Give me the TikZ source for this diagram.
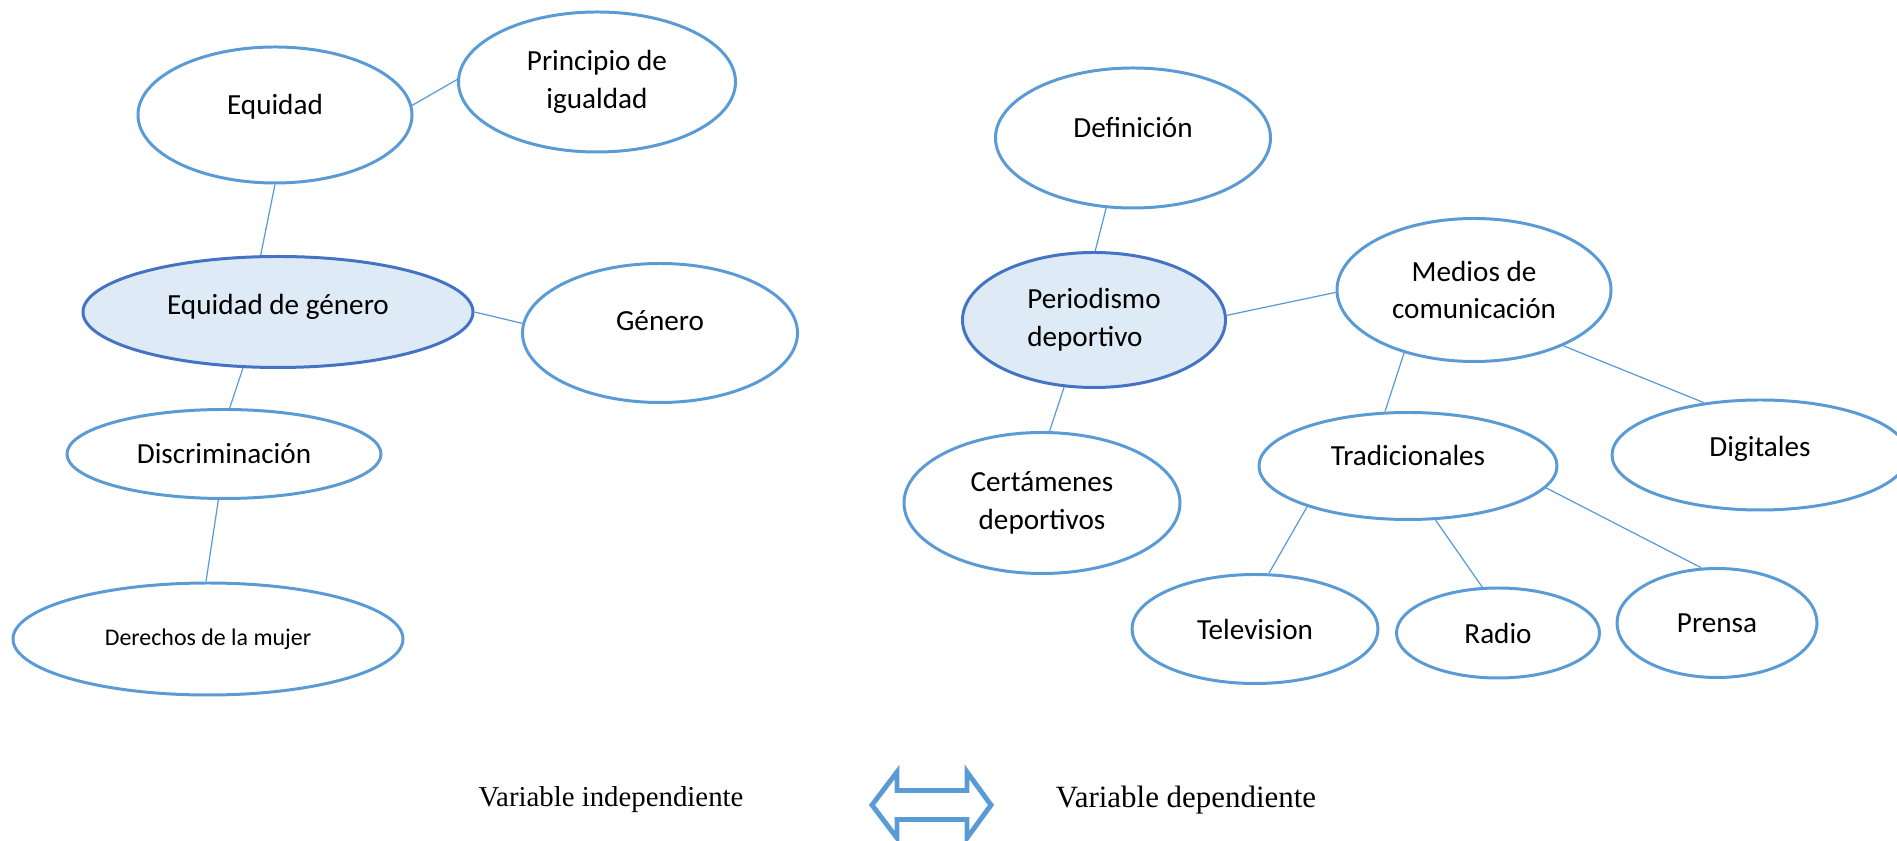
\documentclass[tikz,border=0pt]{standalone}
\usepackage{fontspec}
\setmainfont{Carlito}
\newfontfamily\timesfont{Liberation Serif}
\usetikzlibrary{shapes.geometric}
\definecolor{lineblue}{HTML}{5B9BD5}
\definecolor{darkblue}{HTML}{4472C4}
\definecolor{paleblue}{HTML}{DEEBF7}
\newlength{\rimwidth}
\setlength{\rimwidth}{0.85pt}
\tikzset{bubble/.style = {shape=ellipse,draw=lineblue,line width=\rimwidth,inner sep=0pt,align=center,font=\fontsize{8.3}{10.8}\selectfont}}
\tikzset{core/.style = {bubble,draw=darkblue,fill=paleblue}}
\tikzset{dims/.style 2 args = {minimum width=#1cm,minimum height=#2cm}}
\tikzset{lift/.style = {text height=6pt,text depth=#1}}
\tikzset{link/.style = {draw=lineblue,line width=0.35pt}}
\tikzset{caption/.style = {inner sep=0pt,font=\timesfont\fontsize{8.2}{10}\selectfont}}

\begin{document}
\begin{tikzpicture}
            \useasboundingbox (0,0) rectangle (18.97,-8.41);
            % variable independiente
            \node[bubble, dims={2.74}{1.36}, lift=6.5pt] (equidad) at (2.75,-1.15) {Equidad};
            \node[bubble, dims={2.77}{1.40}] (principio) at (5.97,-0.82) {Principio de\\igualdad};
            \draw[link] (equidad.4) -- (principio.179);
            \node[core, dims={3.90}{1.11}, lift=4.5pt] (eqgenero) at (2.78,-3.12) {Equidad de género};
            \draw[link] (equidad.270) -- (eqgenero.107);
            \node[bubble, dims={2.75}{1.39}, lift=7.2pt] (genero) at (6.60,-3.33) {Género};
            \draw[link] (eqgenero.0) -- (genero.176);
            \node[bubble, dims={3.14}{0.89}] (discrim) at (2.24,-4.54) {Discriminación};
            \draw[link] (eqgenero.238) -- (discrim.83);
            \node[bubble, dims={3.90}{1.12}, font=\fontsize{6.8}{8}\selectfont] (derechos) at (2.08,-6.39) {Derechos de la mujer};
            \draw[link] (discrim.263) -- (derechos.92);
            % variable dependiente
            \node[bubble, dims={2.75}{1.40}, lift=6.5pt] (definicion) at (11.33,-1.38) {Definición};
            \node[core, dims={2.63}{1.35}, align=left] (periodismo) at (10.94,-3.20) {Periodismo\\deportivo};
            \draw[link] (definicion.249) -- (periodismo.89);
            \node[bubble, dims={2.74}{1.43}] (medios) at (14.74,-2.90) {Medios de\\comunicación};
            \draw[link] (periodismo.2) -- (medios.181);
            \node[bubble, dims={2.76}{1.41}] (certamenes) at (10.42,-5.03) {Certámenes\\deportivos};
            \draw[link] (periodismo.246) -- (certamenes.84);
            \node[bubble, dims={2.98}{1.07}, lift=6.5pt] (tradicional) at (14.08,-4.66) {Tradicionales};
            \draw[link] (medios.222) -- (tradicional.113);
            \node[bubble, dims={2.96}{1.10}, lift=5.1pt] (digitales) at (17.60,-4.55) {Digitales};
            \draw[link] (medios.328) -- (digitales.137);
            \node[bubble, dims={2.46}{1.09}] (television) at (12.55,-6.29) {Television};
            \draw[link] (tradicional.202) -- (television.76);
            \node[bubble, dims={2.03}{0.90}] (radio) at (14.98,-6.33) {Radio};
            \draw[link] (tradicional.297) -- (radio.109);
            \node[bubble, dims={2.00}{1.09}] (prensa) at (17.17,-6.23) {Prensa};
            \draw[link] (tradicional.351) -- (prensa.106);
            % leyenda
            \node[caption] (indep) at (6.11,-8.00) {Variable independiente};
            \node[caption, font=\timesfont\fontsize{8.8}{10}\selectfont] (dep) at (11.86,-8.00) {Variable dependiente};
            \draw[lineblue, line width=1.4pt, line join=miter] (8.72,-8.05) -- (8.97,-7.72) -- (8.97,-7.905) -- (9.67,-7.905) -- (9.67,-7.72) -- (9.91,-8.05) -- (9.67,-8.38) -- (9.67,-8.195) -- (8.97,-8.195) -- (8.97,-8.38) -- cycle;
        \end{tikzpicture}
\end{document}
